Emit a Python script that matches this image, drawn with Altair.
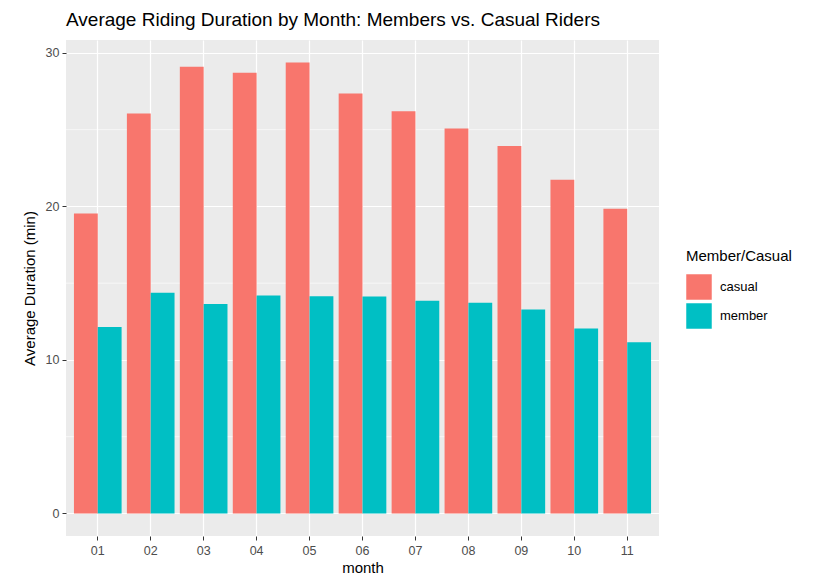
import altair as alt
import pandas as pd

months = ["01", "02", "03", "04", "05", "06", "07", "08", "09", "10", "11"]
casual = [19.54, 26.05, 29.09, 28.70, 29.37, 27.35, 26.20, 25.07, 23.94, 21.74, 19.85]
member = [12.15, 14.37, 13.65, 14.19, 14.15, 14.13, 13.85, 13.72, 13.28, 12.04, 11.15]
groups = ["casual", "member"]
colors = ["#F8766D", "#00BFC4"]
major_breaks = [0, 10, 20, 30]
minor_breaks = [5, 15, 25]

rows = []
for m, c, mb in zip(months, casual, member):
    rows.append({"month": m, "member_casual": "casual", "avg": c})
    rows.append({"month": m, "member_casual": "member", "avg": mb})
df = pd.DataFrame(rows)
minor_df = pd.DataFrame({"v": minor_breaks})

FONT = "Liberation Sans"
ymax = max(casual)
ydom = [-0.05 * ymax, ymax * 1.05]

yscale = alt.Scale(domain=ydom, nice=False, zero=False)
xscale = alt.Scale(paddingInner=0.1, paddingOuter=0.15)

minor = alt.Chart(minor_df).mark_rule(color="white", strokeWidth=0.6).encode(
    y=alt.Y("v:Q", scale=yscale)
)

bars = alt.Chart(df).mark_bar().encode(
    x=alt.X("month:N", sort=months, scale=xscale,
            axis=alt.Axis(title="month", labelAngle=0, grid=True, gridColor="white",
                          gridWidth=1.2, bandPosition=0.5, domain=False, tickSize=4,
                          tickColor="#333333", labelColor="#4D4D4D", labelFontSize=12.5,
                          labelPadding=4, titlePadding=4, titleFontSize=15,
                          titleFontWeight="normal", titleColor="black",
                          labelFont=FONT, titleFont=FONT)),
    xOffset=alt.XOffset("member_casual:N", scale=alt.Scale(paddingInner=0, paddingOuter=0)),
    y=alt.Y("avg:Q", scale=yscale,
            axis=alt.Axis(title="Average Duration (min)", values=major_breaks, grid=True,
                          gridColor="white", gridWidth=1.2, domain=False, tickSize=4,
                          tickColor="#333333", labelColor="#4D4D4D", labelFontSize=12.5,
                          labelPadding=3, titlePadding=8, titleFontSize=15,
                          titleFontWeight="normal", titleColor="black",
                          labelFont=FONT, titleFont=FONT)),
    y2=alt.datum(0),
    color=alt.Color("member_casual:N",
                    scale=alt.Scale(domain=groups, range=colors),
                    legend=alt.Legend(title="Member/Casual", orient="none",
                                      legendX=620, legendY=209,
                                      symbolType="square", symbolSize=650,
                                      symbolStrokeWidth=0, symbolOpacity=1,
                                      titleFontSize=15, titleFontWeight="normal",
                                      titleColor="black", titleFont=FONT,
                                      labelFontSize=13, labelFont=FONT,
                                      labelColor="black", titlePadding=10,
                                      rowPadding=3, labelOffset=8)),
)

chart = alt.layer(minor, bars).properties(
    width=593,
    height=496,
    title=alt.TitleParams("Average Riding Duration by Month: Members vs. Casual Riders",
                          anchor="start", frame="group", fontSize=19, fontWeight="normal",
                          font=FONT, color="black", offset=10),
    autosize=alt.AutoSizeParams(type="none"),
    padding={"left": 58, "top": 32, "right": 157, "bottom": 40},
).configure_view(fill="#EBEBEB", stroke=None)

chart.save("out.html", embed_options={"renderer": "svg", "actions": False})
